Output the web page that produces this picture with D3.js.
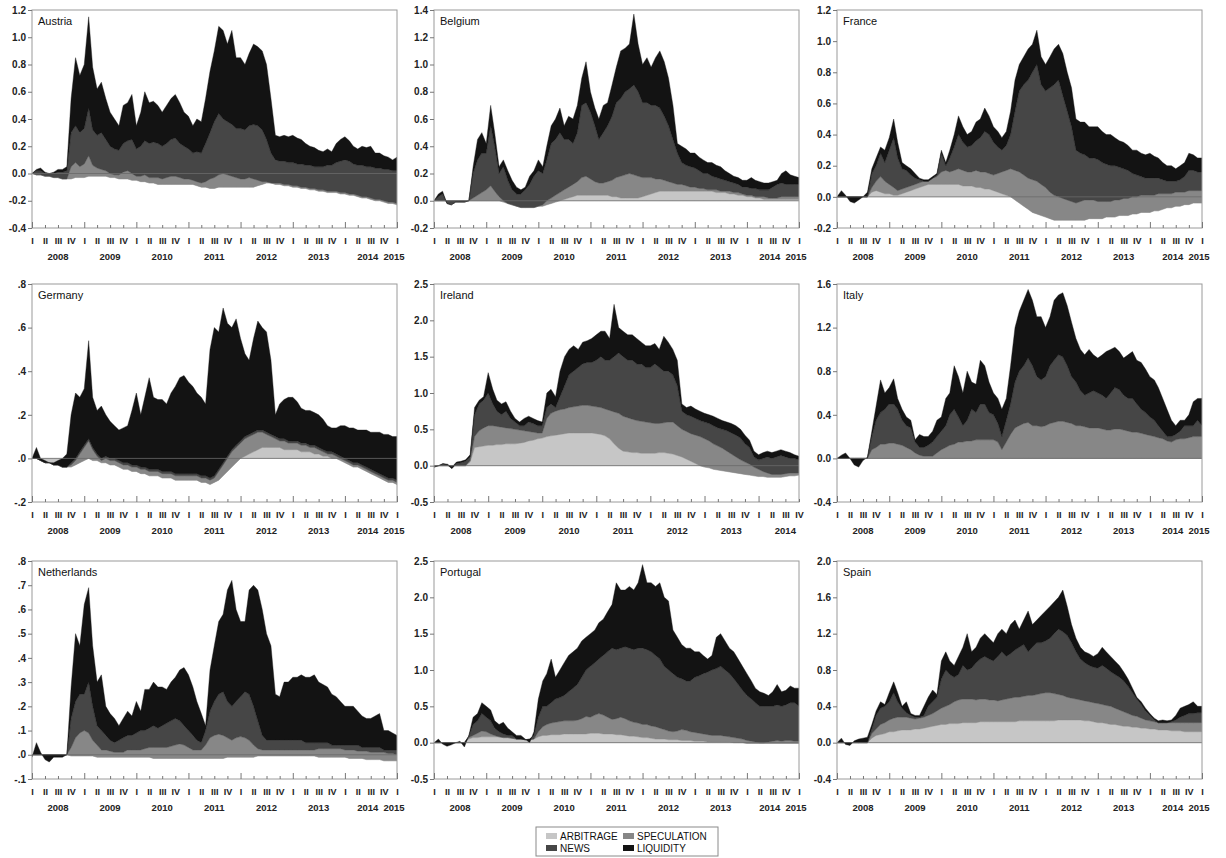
<!DOCTYPE html>
<html>
<head>
<meta charset="utf-8">
<script src="https://cdnjs.cloudflare.com/ajax/libs/d3/7.8.5/d3.min.js"></script>
<style>
  body { margin: 0; background: #fff; }
  svg { display: block; }
  text { font-family: "Liberation Sans", Arial, sans-serif; }
</style>
</head>
<body>
<svg id="chart" width="1226" height="858"></svg>
<script>
"use strict";

// Monthly readings, Jan 2008 .. Jan 2015 (Ireland stops at Oct 2014).
// Layers stack cumulatively in the order arbitrage, speculation, news, liquidity.

var austriaArbitrage = [
  0,-.01,-.01,-.02,-.02,-.03,-.03,-.04,-.04,-.04,-.03,-.03,
  -.03,-.02,-.02,-.02,-.02,-.02,-.03,-.03,-.04,-.04,-.04,-.05,
  -.05,-.06,-.06,-.07,-.07,-.08,-.08,-.08,-.08,-.08,-.08,-.08,
  -.08,-.08,-.09,-.10,-.10,-.11,-.11,-.10,-.10,-.10,-.10,-.10,
  -.10,-.10,-.10,-.10,-.09,-.08,-.07,-.07,-.08,-.08,-.09,-.09,
  -.10,-.10,-.11,-.11,-.12,-.12,-.13,-.13,-.14,-.14,-.14,-.15,
  -.15,-.16,-.16,-.17,-.18,-.18,-.19,-.20,-.20,-.21,-.22,-.22,
  -.23];
var austriaSpeculation = [
  0,0,0,0,0,0,0,0,0,.09,.11,.08,
  .10,.15,.08,.06,.05,.04,.03,.02,.03,.05,.06,.05,
  .03,.04,.05,.04,.04,.05,.04,.05,.06,.06,.05,.04,
  .04,.03,.03,.03,.04,.07,.08,.09,.10,.09,.08,.07,
  .06,.06,.07,.06,.04,.02,.01,0,.01,.01,.01,.01,
  .01,.01,.01,.01,.01,.01,.01,.01,.01,.01,.01,.01,
  .01,.01,.01,.01,.01,.01,.01,.01,.01,.01,.01,.01,
  .01];
var austriaNews = [
  0,.03,.03,.02,.02,.03,.04,.05,.06,.25,.27,.25,
  .26,.35,.26,.24,.27,.23,.20,.19,.18,.21,.22,.25,
  .20,.22,.25,.25,.26,.25,.24,.25,.27,.28,.25,.24,
  .22,.20,.22,.22,.28,.34,.41,.45,.40,.39,.38,.36,
  .37,.36,.38,.40,.40,.38,.31,.22,.17,.16,.17,.16,
  .17,.16,.17,.16,.17,.16,.17,.17,.19,.19,.21,.23,
  .24,.24,.22,.22,.23,.22,.23,.23,.23,.23,.24,.23,
  .24];
var austriaLiquidity = [
  0,.01,.02,.01,0,.01,.02,.02,.03,.25,.50,.42,
  .47,.67,.46,.34,.37,.30,.25,.22,.18,.28,.28,.33,
  .17,.25,.36,.30,.30,.28,.25,.28,.30,.32,.30,.25,
  .24,.20,.24,.23,.33,.45,.52,.64,.65,.57,.69,.52,
  .52,.48,.53,.59,.58,.58,.55,.40,.18,.18,.19,.19,
  .20,.19,.18,.16,.14,.14,.12,.11,.12,.10,.14,.16,
  .17,.15,.13,.12,.14,.14,.15,.11,.11,.10,.09,.08,
  .10];

var belgiumArbitrage = [
  0,0,0,0,0,0,0,0,0,0,0,0,
  0,0,0,0,-.01,-.02,-.03,-.04,-.05,-.05,-.05,-.05,
  -.04,-.04,-.03,-.02,-.01,0,.01,.02,.03,.04,.04,.04,
  .04,.04,.04,.04,.04,.03,.03,.02,.02,.02,.02,.02,
  .03,.04,.05,.06,.07,.07,.07,.07,.07,.07,.07,.07,
  .07,.07,.07,.07,.07,.06,.06,.06,.05,.05,.04,.04,
  .03,.03,.02,.02,.01,.01,.01,.01,.01,.01,.01,.01,
  .01];
var belgiumSpeculation = [
  0,0,0,0,0,0,0,0,0,.02,.04,.06,
  .08,.11,.07,.03,.01,0,0,0,0,0,0,0,
  0,.01,.03,.04,.05,.06,.07,.08,.09,.10,.13,.14,
  .12,.10,.09,.09,.10,.12,.14,.16,.17,.18,.17,.16,
  .14,.13,.12,.10,.09,.08,.07,.06,.05,.05,.04,.03,
  .03,.02,.02,.01,.01,.02,.01,.01,.02,.01,.02,.01,
  .01,.01,.01,.01,.02,.01,.01,.01,.02,.02,.02,.02,
  .02];
var belgiumNews = [
  0,.03,.05,-.02,-.03,-.01,-.01,-.01,0,.18,.26,.29,
  .27,.44,.33,.17,.25,.17,.11,.09,.10,.13,.17,.23,
  .26,.23,.30,.40,.41,.44,.37,.35,.30,.36,.53,.54,
  .49,.41,.32,.37,.41,.47,.55,.57,.61,.62,.66,.62,
  .55,.55,.53,.54,.52,.47,.41,.32,.23,.16,.15,.15,
  .14,.13,.11,.12,.10,.09,.09,.08,.07,.07,.06,.05,
  .06,.05,.06,.05,.05,.06,.08,.10,.10,.09,.09,.09,
  .09];
var belgiumLiquidity = [
  0,.02,.02,0,0,0,0,0,0,.05,.15,.15,
  .07,.15,.10,.05,.05,.07,.07,.05,.03,.02,.06,.04,
  .08,.05,.10,.13,.15,.18,.10,.17,.18,.20,.20,.30,
  .15,.13,.15,.20,.17,.23,.26,.35,.32,.33,.52,.35,
  .28,.33,.28,.35,.42,.40,.35,.25,.07,.12,.12,.10,
  .11,.10,.10,.08,.10,.09,.09,.07,.06,.05,.05,.05,
  .05,.08,.06,.06,.05,.05,.04,.03,.07,.10,.07,.06,
  .05];

var franceArbitrage = [
  0,0,0,0,0,0,0,0,.03,.04,.03,.02,
  .02,.01,.01,.02,.03,.04,.05,.06,.07,.08,.08,.08,
  .08,.08,.08,.08,.08,.07,.07,.07,.06,.06,.05,.05,
  .04,.03,.02,.01,0,-.02,-.04,-.06,-.08,-.10,-.11,-.12,
  -.13,-.14,-.15,-.15,-.15,-.15,-.15,-.15,-.15,-.15,-.14,-.14,
  -.14,-.14,-.13,-.13,-.13,-.12,-.12,-.12,-.11,-.11,-.10,-.10,
  -.10,-.09,-.09,-.08,-.07,-.07,-.06,-.06,-.05,-.05,-.04,-.04,
  -.04];
var franceSpeculation = [
  0,0,0,0,0,0,0,0,.03,.06,.10,.08,
  .06,.05,.03,.03,.03,.03,.03,.03,.03,.02,.04,.05,
  .08,.09,.08,.09,.10,.10,.09,.09,.11,.10,.11,.10,
  .10,.12,.14,.16,.18,.19,.20,.20,.20,.21,.21,.20,
  .19,.17,.16,.15,.14,.13,.12,.11,.12,.13,.12,.12,
  .11,.11,.10,.10,.11,.10,.11,.11,.11,.11,.11,.11,
  .11,.10,.11,.10,.09,.09,.09,.09,.08,.09,.08,.08,
  .08];
var franceNews = [
  0,0,0,0,0,0,0,0,.09,.10,.15,.12,
  .22,.32,.21,.13,.11,.07,.04,.02,0,0,0,.01,
  .12,.03,.09,.15,.22,.18,.16,.17,.19,.22,.26,.25,
  .21,.17,.14,.16,.22,.38,.52,.58,.63,.69,.75,.64,
  .62,.67,.71,.75,.66,.57,.48,.34,.31,.29,.27,.27,
  .27,.25,.24,.23,.22,.21,.19,.18,.15,.14,.12,.11,
  .11,.11,.10,.09,.08,.08,.07,.08,.10,.13,.13,.12,
  .12];
var franceLiquidity = [
  0,.04,.01,-.03,-.04,-.02,0,.03,.03,.05,.04,.08,
  .08,.12,.10,.04,.03,.04,.03,.01,.01,.01,.01,.01,
  .02,.02,.05,.08,.12,.10,.08,.09,.12,.12,.15,.12,
  .10,.10,.08,.09,.15,.20,.17,.18,.20,.18,.22,.18,
  .17,.20,.23,.23,.27,.25,.25,.20,.20,.21,.20,.20,
  .21,.20,.19,.20,.18,.17,.17,.16,.15,.16,.15,.15,
  .16,.14,.13,.11,.10,.10,.08,.09,.09,.11,.10,.09,
  .09];

var germanyArbitrage = [
  0,0,-.01,-.02,-.02,-.03,-.03,-.04,-.04,-.04,-.03,-.02,
  -.01,0,-.01,-.01,-.02,-.02,-.03,-.03,-.04,-.05,-.05,-.06,
  -.06,-.07,-.07,-.08,-.08,-.08,-.09,-.09,-.09,-.10,-.10,-.10,
  -.10,-.10,-.10,-.11,-.11,-.12,-.11,-.10,-.08,-.06,-.04,-.02,
  0,.01,.02,.03,.04,.05,.05,.05,.05,.05,.04,.04,
  .04,.04,.03,.03,.03,.02,.02,.01,.01,0,0,-.01,
  -.02,-.03,-.04,-.04,-.05,-.06,-.07,-.08,-.09,-.10,-.11,-.11,
  -.12];
var germanySpeculation = [
  0,0,0,0,0,0,0,0,0,.01,.02,.04,
  .06,.08,.05,.02,.01,.02,.02,.02,.02,.02,.02,.02,
  .02,.02,.02,.02,.02,.02,.02,.02,.02,.02,.02,.02,
  .02,.02,.02,.02,.02,.02,.02,.04,.05,.06,.07,.07,
  .07,.08,.08,.08,.08,.07,.06,.05,.04,.03,.04,.03,
  .03,.03,.03,.03,.02,.03,.02,.02,.01,.02,.01,.01,
  .01,.01,.01,.01,.01,.01,.01,.01,.01,.01,.01,.01,
  .01];
var germanyNews = [
  0,0,0,0,0,0,0,0,0,.01,.01,.01,
  .01,.01,.01,.01,.01,.01,.01,.01,.01,.01,.01,.01,
  .01,.01,.01,.01,.01,.01,.01,.01,.01,.01,.01,.01,
  .01,.01,.01,.01,.01,.01,.01,.01,.01,.01,.01,.01,
  .01,.01,.01,.01,.01,.01,.01,.01,.01,.01,.01,.01,
  .01,.01,.01,.01,.01,.01,.01,.01,.01,.01,.01,.01,
  .01,.01,.01,.01,.01,.01,.01,.01,.01,.01,.01,.01,
  .01];
var germanyLiquidity = [
  0,.05,.01,.01,0,.01,.02,.04,.06,.22,.30,.25,
  .26,.45,.23,.20,.24,.19,.17,.15,.14,.16,.17,.25,
  .33,.24,.32,.42,.33,.32,.33,.31,.36,.40,.44,.45,
  .42,.40,.37,.36,.33,.59,.68,.63,.71,.61,.56,.58,
  .47,.38,.34,.43,.50,.47,.46,.34,.10,.16,.18,.20,
  .20,.18,.16,.15,.16,.15,.15,.14,.12,.11,.12,.14,
  .15,.15,.16,.15,.16,.17,.17,.18,.19,.19,.20,.19,
  .20];

var irelandArbitrage = [
  0,0,0,0,0,0,0,0,.05,.25,.26,.27,
  .28,.28,.29,.29,.30,.30,.30,.31,.32,.34,.35,.37,
  .38,.40,.41,.42,.43,.44,.45,.45,.45,.45,.45,.45,
  .44,.43,.41,.37,.30,.24,.20,.19,.18,.18,.17,.17,
  .17,.17,.18,.18,.17,.16,.14,.12,.09,.06,.03,0,
  -.02,-.03,-.05,-.06,-.07,-.08,-.09,-.10,-.11,-.12,-.13,-.14,
  -.15,-.15,-.16,-.16,-.16,-.16,-.15,-.14,-.14,-.13];
var irelandSpeculation = [
  0,0,0,0,0,0,0,0,.02,.15,.22,.25,
  .27,.27,.25,.24,.22,.21,.20,.18,.16,.13,.11,.08,
  .07,.25,.31,.33,.34,.34,.35,.36,.37,.38,.38,.37,
  .37,.37,.37,.39,.44,.48,.48,.47,.46,.44,.44,.43,
  .42,.41,.40,.41,.43,.44,.41,.38,.38,.38,.39,.40,
  .39,.37,.35,.33,.31,.28,.25,.22,.19,.17,.15,.12,
  .10,.07,.06,.04,.04,.04,.04,.04,.04,.03];
var irelandNews = [
  -.02,0,.02,.01,-.04,.03,.04,.06,.05,.30,.37,.38,
  .45,.30,.21,.17,.23,.14,.10,.06,.07,.13,.12,.10,
  .10,.15,.13,.05,.18,.32,.45,.49,.53,.57,.59,.60,
  .64,.70,.67,.69,.76,.83,.82,.79,.81,.78,.79,.75,
  .76,.82,.77,.71,.70,.65,.55,.25,.23,.24,.23,.22,
  .23,.24,.25,.25,.26,.28,.29,.30,.30,.25,.23,.14,
  .13,.18,.22,.22,.24,.26,.23,.20,.20,.18];
var irelandLiquidity = [
  0,0,.01,.01,.02,.02,.02,.02,.03,.10,.05,.05,
  .28,.20,.15,.15,.13,.10,.05,.05,.10,.08,.07,.07,
  .05,.20,.20,.15,.35,.40,.35,.35,.25,.30,.30,.33,
  .35,.35,.40,.30,.72,.35,.35,.35,.35,.35,.30,.30,
  .30,.28,.25,.48,.40,.35,.35,.10,.10,.14,.13,.13,
  .12,.12,.13,.13,.12,.12,.13,.13,.12,.12,.10,.08,
  .07,.08,.08,.08,.08,.08,.08,.08,.05,.05];

var italyArbitrage = [
  0,0,0,0,0,0,0,0,0,0,0,0,
  0,0,0,0,0,0,0,0,0,0,0,0,
  0,0,0,0,0,0,0,0,0,0,0,0,
  0,0,0,0,0,0,0,0,0,0,0,0,
  0,0,0,0,0,0,0,0,0,0,0,0,
  0,0,0,0,0,0,0,0,0,0,0,0,
  0,0,0,0,0,0,0,0,0,0,0,0,
  0];
var italySpeculation = [
  0,0,0,0,0,0,0,0,.08,.10,.13,.13,
  .14,.14,.13,.12,.10,.08,.05,.03,.02,.02,.02,.05,
  .08,.10,.12,.13,.15,.15,.16,.16,.17,.17,.17,.17,
  .17,.15,.08,.15,.22,.28,.30,.32,.33,.30,.30,.29,
  .30,.32,.33,.34,.34,.33,.32,.30,.30,.29,.28,.28,
  .28,.27,.26,.26,.27,.27,.26,.25,.24,.24,.23,.22,
  .21,.20,.19,.18,.16,.15,.17,.18,.18,.19,.20,.20,
  .20];
var italyNews = [
  0,0,0,0,0,0,0,0,.12,.25,.29,.32,
  .36,.36,.32,.23,.20,.20,.10,.07,.08,.10,.13,.15,
  .17,.20,.28,.32,.23,.15,.19,.29,.25,.33,.33,.25,
  .23,.17,.12,.20,.28,.42,.50,.53,.59,.55,.45,.43,
  .45,.53,.57,.61,.59,.52,.43,.40,.32,.29,.32,.34,
  .32,.31,.29,.34,.38,.36,.32,.30,.31,.26,.22,.20,
  .17,.15,.11,.07,.04,.05,.05,.07,.12,.11,.10,.15,
  .10];
var italyLiquidity = [
  0,.03,.05,0,-.06,-.08,-.02,.01,.05,.13,.30,.15,
  .15,.23,.10,.10,.08,.07,.02,.12,.10,.08,.10,.15,
  .13,.25,.20,.40,.37,.30,.45,.25,.26,.40,.35,.28,
  .20,.23,.25,.20,.35,.50,.55,.60,.63,.60,.55,.58,
  .45,.45,.55,.55,.59,.55,.50,.40,.38,.37,.40,.33,
  .32,.37,.43,.40,.37,.35,.34,.40,.43,.40,.43,.40,
  .37,.37,.35,.30,.25,.15,.08,.10,.05,.10,.22,.20,
  .25];

var netherlandsArbitrage = [
  0,0,0,0,0,0,0,0,0,-.005,-.005,-.005,
  -.005,-.005,-.005,-.01,-.01,-.01,-.01,-.01,-.01,-.01,-.01,-.01,
  -.01,-.01,-.01,-.01,-.015,-.015,-.015,-.015,-.015,-.015,-.015,-.015,
  -.015,-.015,-.015,-.015,-.015,-.015,-.015,-.015,-.015,-.01,-.01,-.01,
  -.01,-.01,-.01,-.01,-.005,-.005,-.005,-.005,-.005,-.005,-.005,-.005,
  -.005,-.005,-.005,-.005,-.005,-.005,-.01,-.01,-.01,-.01,-.01,-.01,
  -.01,-.015,-.015,-.015,-.015,-.02,-.02,-.02,-.02,-.025,-.025,-.025,
  -.025];
var netherlandsSpeculation = [
  0,0,0,0,0,0,0,0,0,.035,.075,.095,
  .105,.095,.065,.05,.03,.03,.025,.02,.02,.02,.03,.03,
  .03,.03,.035,.04,.045,.045,.045,.045,.05,.055,.06,.055,
  .045,.035,.035,.035,.055,.085,.095,.10,.095,.08,.07,.08,
  .085,.08,.07,.05,.03,.025,.025,.025,.025,.025,.025,.025,
  .025,.025,.025,.025,.025,.025,.035,.035,.035,.035,.035,.035,
  .03,.035,.035,.03,.03,.035,.03,.03,.03,.035,.03,.03,
  .025];
var netherlandsNews = [
  0,0,0,0,0,0,0,0,0,.12,.15,.16,
  .15,.21,.14,.08,.08,.06,.045,.04,.05,.06,.06,.06,
  .07,.08,.075,.08,.09,.08,.09,.10,.105,.11,.095,.08,
  .07,.06,.04,.03,.06,.11,.14,.165,.18,.15,.14,.15,
  .165,.19,.19,.16,.115,.06,.04,.04,.04,.04,.04,.04,
  .04,.04,.04,.03,.03,.03,.025,.025,.025,.015,.015,.015,
  .02,.02,.02,.025,.015,.015,.02,.02,.02,.01,.015,.015,
  .02];
var netherlandsLiquidity = [
  -.01,.05,.01,-.02,-.03,-.01,-.01,-.01,0,.13,.28,.20,
  .37,.39,.25,.18,.23,.12,.11,.10,.06,.08,.10,.08,
  .13,.08,.17,.16,.18,.17,.16,.14,.16,.17,.21,.24,
  .23,.20,.16,.12,.02,.17,.23,.30,.32,.46,.52,.38,
  .31,.29,.43,.50,.54,.52,.44,.39,.19,.18,.24,.24,
  .26,.26,.27,.27,.27,.28,.25,.24,.23,.21,.20,.18,
  .16,.16,.16,.14,.13,.12,.12,.13,.14,.08,.08,.07,
  .06];

var portugalArbitrage = [
  0,0,0,0,0,0,0,0,.05,.07,.07,.08,
  .08,.08,.08,.08,.07,.07,.06,.05,.05,.04,.04,.05,
  .08,.10,.10,.11,.11,.11,.12,.12,.12,.12,.12,.12,
  .13,.13,.13,.12,.12,.12,.11,.11,.10,.09,.09,.08,
  .07,.07,.06,.05,.05,.05,.04,.04,.04,.03,.03,.03,
  .02,.02,.02,.01,.01,.01,.01,.01,.01,0,0,0,
  -.01,-.01,-.01,-.01,-.01,-.01,-.01,-.01,-.01,-.01,-.01,-.01,
  -.01];
var portugalSpeculation = [
  0,0,0,0,0,0,0,0,.02,.03,.06,.08,
  .07,.04,.02,0,0,0,0,0,0,0,0,0,
  .07,.12,.15,.16,.17,.18,.18,.18,.18,.19,.21,.24,
  .22,.25,.27,.26,.23,.20,.22,.24,.23,.21,.19,.19,
  .18,.18,.17,.17,.15,.13,.12,.11,.12,.15,.14,.12,
  .12,.11,.10,.10,.09,.09,.09,.08,.07,.07,.06,.05,
  .04,.03,.02,.01,.01,.02,.03,.04,.03,.04,.04,.03,
  .03];
var portugalNews = [
  0,0,0,0,0,0,0,0,.02,.15,.17,.24,
  .20,.18,.10,.07,.05,.03,.04,0,0,0,.01,.05,
  .20,.28,.25,.28,.32,.33,.35,.40,.45,.49,.57,.64,
  .70,.72,.75,.82,.90,.98,.95,.95,.99,1.00,1.00,1.03,
  1.05,1.03,1.02,.98,.95,.87,.84,.80,.74,.70,.68,.70,
  .76,.79,.83,.86,.90,.92,.95,.91,.87,.81,.74,.67,
  .62,.58,.54,.50,.50,.49,.48,.49,.48,.49,.52,.53,
  .48];
var portugalLiquidity = [
  0,.05,-.02,-.05,-.03,0,.02,-.06,.01,.10,.10,.15,
  .15,.15,.10,.10,.16,.10,.05,.05,.05,.01,-.05,.05,
  .25,.35,.45,.60,.30,.38,.45,.50,.50,.50,.50,.45,
  .45,.45,.50,.50,.55,.60,.92,.80,.78,.85,.82,.90,
  1.15,.92,.95,.95,1.05,.95,.95,.60,.55,.47,.45,.45,
  .35,.33,.25,.18,.20,.43,.45,.40,.35,.37,.35,.33,
  .30,.25,.20,.20,.18,.15,.20,.28,.20,.20,.23,.20,
  .25];

var spainArbitrage = [
  0,0,0,0,0,0,0,0,.05,.08,.09,.10,
  .12,.12,.13,.14,.14,.14,.15,.15,.16,.17,.18,.19,
  .20,.20,.21,.21,.21,.22,.22,.22,.22,.23,.23,.23,
  .23,.23,.23,.23,.23,.23,.24,.24,.24,.24,.24,.24,
  .24,.24,.24,.25,.25,.25,.25,.25,.25,.24,.24,.23,
  .22,.22,.21,.20,.20,.19,.18,.18,.17,.17,.16,.16,
  .15,.15,.14,.14,.14,.13,.13,.13,.12,.12,.12,.12,
  .12];
var spainSpeculation = [
  0,0,0,0,0,0,0,0,.05,.07,.11,.12,
  .13,.15,.15,.14,.14,.13,.11,.12,.12,.13,.14,.16,
  .18,.20,.21,.24,.26,.26,.26,.26,.25,.25,.25,.24,
  .24,.23,.24,.25,.26,.27,.26,.27,.28,.28,.29,.30,
  .31,.31,.30,.28,.27,.25,.24,.23,.22,.22,.21,.21,
  .21,.20,.20,.20,.18,.17,.16,.14,.13,.12,.11,.09,
  .09,.08,.08,.08,.08,.09,.09,.09,.10,.10,.10,.10,
  .10];
var spainNews = [
  0,0,0,0,0,0,0,0,.05,.15,.18,.18,
  .20,.28,.17,.10,.05,.03,.02,.01,.02,.10,.13,.15,
  .32,.40,.33,.27,.28,.37,.32,.34,.41,.44,.47,.45,
  .43,.49,.53,.47,.49,.52,.55,.57,.48,.53,.57,.56,
  .57,.60,.66,.72,.70,.68,.61,.52,.45,.42,.40,.39,
  .39,.43,.41,.38,.37,.36,.34,.30,.25,.19,.15,.10,
  .06,.02,0,0,0,.01,.03,.06,.08,.10,.10,.11,
  .11];
var spainLiquidity = [
  0,.05,-.02,-.03,.02,.04,.05,.06,.05,.05,.07,.02,
  .10,.12,.10,.02,.12,.02,.02,.02,.10,.10,.13,.03,
  .20,.20,.15,.13,.20,.20,.40,.18,.17,.23,.25,.23,
  .20,.25,.25,.25,.32,.33,.20,.27,.45,.25,.25,.30,
  .33,.35,.35,.35,.46,.32,.20,.15,.13,.12,.13,.12,
  .16,.20,.18,.17,.15,.13,.10,.08,.05,.02,.03,.03,
  .02,.02,.02,.03,.02,.02,.05,.10,.10,.10,.13,.07,
  .07];

// y axis tick values per panel
var austriaTicks = [-0.4, -0.2, 0, 0.2, 0.4, 0.6, 0.8, 1.0, 1.2];
var belgiumTicks = [-0.2, 0, 0.2, 0.4, 0.6, 0.8, 1.0, 1.2, 1.4];
var franceTicks = [-0.2, 0, 0.2, 0.4, 0.6, 0.8, 1.0, 1.2];
var germanyTicks = [-0.2, 0, 0.2, 0.4, 0.6, 0.8];
var irelandTicks = [-0.5, 0, 0.5, 1.0, 1.5, 2.0, 2.5];
var italyTicks = [-0.4, 0, 0.4, 0.8, 1.2, 1.6];
var netherlandsTicks = [-0.1, 0, 0.1, 0.2, 0.3, 0.4, 0.5, 0.6, 0.7, 0.8];
var portugalTicks = [-0.5, 0, 0.5, 1.0, 1.5, 2.0, 2.5];
var spainTicks = [-0.4, 0, 0.4, 0.8, 1.2, 1.6, 2.0];

var quarterNames = ["I", "II", "III", "IV"];
var yearLabels = [2008, 2009, 2010, 2011, 2012, 2013, 2014];
var layerNames = ["ARBITRAGE", "SPECULATION", "NEWS", "LIQUIDITY"];
var layerColors = ["#c6c6c6", "#878787", "#464646", "#131313"];

// tick label styles: one decimal, or one decimal with the leading zero dropped
function oneDecimal(v) { return v.toFixed(1); }
function noLeadZero(v) { return v.toFixed(1).replace("0.", "."); }

var panels = [
  { name: "Austria", series: [austriaArbitrage, austriaSpeculation, austriaNews, austriaLiquidity], ticks: austriaTicks, fmt: oneDecimal },
  { name: "Belgium", series: [belgiumArbitrage, belgiumSpeculation, belgiumNews, belgiumLiquidity], ticks: belgiumTicks, fmt: oneDecimal },
  { name: "France", series: [franceArbitrage, franceSpeculation, franceNews, franceLiquidity], ticks: franceTicks, fmt: oneDecimal },
  { name: "Germany", series: [germanyArbitrage, germanySpeculation, germanyNews, germanyLiquidity], ticks: germanyTicks, fmt: noLeadZero },
  { name: "Ireland", series: [irelandArbitrage, irelandSpeculation, irelandNews, irelandLiquidity], ticks: irelandTicks, fmt: oneDecimal },
  { name: "Italy", series: [italyArbitrage, italySpeculation, italyNews, italyLiquidity], ticks: italyTicks, fmt: oneDecimal },
  { name: "Netherlands", series: [netherlandsArbitrage, netherlandsSpeculation, netherlandsNews, netherlandsLiquidity], ticks: netherlandsTicks, fmt: noLeadZero },
  { name: "Portugal", series: [portugalArbitrage, portugalSpeculation, portugalNews, portugalLiquidity], ticks: portugalTicks, fmt: oneDecimal },
  { name: "Spain", series: [spainArbitrage, spainSpeculation, spainNews, spainLiquidity], ticks: spainTicks, fmt: oneDecimal }
];

var colLeft = [32, 434, 837];
var rowTop = [10, 284, 561];
var plotW = 365, plotH = 218;
var start = new Date(2008, 0, 1);
var svg = d3.select("#chart");

function drawPanel(p, i) {
  var left = colLeft[i % 3], top = rowTop[Math.floor(i / 3)];
  var months = p.series[0].length;
  var dates = d3.range(months).map(function (m) { return d3.timeMonth.offset(start, m); });
  var x = d3.scaleTime().domain([start, dates[months - 1]]).range([0, plotW]);
  var y = d3.scaleLinear().domain(d3.extent(p.ticks)).range([plotH, 0]);

  var rows = dates.map(function (d, m) {
    var r = { date: d };
    layerNames.forEach(function (k, j) { r[k] = p.series[j][m]; });
    return r;
  });
  // default offset: every layer starts where the previous one ended (signed values)
  var stacked = d3.stack().keys(layerNames)(rows);

  var g = svg.append("g").attr("transform", "translate(" + left + "," + top + ")");
  g.append("clipPath").attr("id", "clip" + i)
    .append("rect").attr("width", plotW).attr("height", plotH);

  var area = d3.area()
    .x(function (d) { return x(d.data.date); })
    .y0(function (d) { return y(d[0]); })
    .y1(function (d) { return y(d[1]); });

  g.append("g").attr("clip-path", "url(#clip" + i + ")")
    .selectAll("path")
    .data(stacked)
    .enter().append("path")
      .attr("d", area)
      .attr("fill", function (d, j) { return layerColors[j]; })
      .attr("stroke", function (d, j) { return layerColors[j]; })
      .attr("stroke-width", 0.4);

  // zero line
  g.append("line")
    .attr("x1", 0).attr("x2", plotW)
    .attr("y1", y(0)).attr("y2", y(0))
    .attr("stroke", "#6a6a6a").attr("stroke-width", 0.8);

  g.append("rect")
    .attr("width", plotW).attr("height", plotH)
    .attr("fill", "none").attr("stroke", "#9a9a9a").attr("stroke-width", 1);

  // y axis
  var yAxis = g.append("g")
    .call(d3.axisLeft(y).tickValues(p.ticks).tickSize(4).tickPadding(2).tickFormat(p.fmt));
  yAxis.select(".domain").remove();
  yAxis.selectAll("line").attr("stroke", "#777");
  yAxis.selectAll("text").attr("font-size", 10).attr("font-weight", "bold").attr("fill", "#222");

  // x axis: quarter ticks pointing inside, roman quarter labels
  var quarters = dates.filter(function (d, m) { return m % 3 === 0; });
  var xAxis = g.append("g").attr("transform", "translate(0," + plotH + ")")
    .call(d3.axisBottom(x).tickValues(quarters).tickSizeInner(-3).tickSizeOuter(0).tickPadding(10)
      .tickFormat(function (d) { return quarterNames[Math.floor(d.getMonth() / 3)]; }));
  xAxis.select(".domain").remove();
  xAxis.selectAll("line")
    .attr("y2", function (d) { return d.getMonth() === 0 ? -6 : -3; })
    .attr("stroke", "#777");
  xAxis.selectAll("text").attr("font-size", 9).attr("font-weight", "bold").attr("fill", "#222");

  // year labels centred in each year; the closing 2015 sits at the right edge
  g.selectAll(".year")
    .data(yearLabels)
    .enter().append("text")
      .attr("x", function (yr) { return x(new Date(yr, 6, 1)) - (yr === 2014 && months > 84 ? 3 : 0); })
      .attr("y", plotH + 32)
      .attr("text-anchor", "middle")
      .attr("font-size", 9.5).attr("font-weight", "bold").attr("fill", "#222")
      .text(function (yr) { return yr; });
  if (months > 84) {
    g.append("text")
      .attr("x", plotW - 3).attr("y", plotH + 32)
      .attr("text-anchor", "middle")
      .attr("font-size", 9.5).attr("font-weight", "bold").attr("fill", "#222")
      .text("2015");
  }

  g.append("text")
    .attr("x", 6).attr("y", 15)
    .attr("font-size", 11).attr("fill", "#111")
    .text(p.name);
}

panels.forEach(drawPanel);

// legend
var legend = svg.append("g").attr("transform", "translate(536,827)");
legend.append("rect")
  .attr("width", 182).attr("height", 29)
  .attr("fill", "#fff").attr("stroke", "#8a8a8a");
var item = legend.selectAll(".item")
  .data(layerNames)
  .enter().append("g")
    .attr("transform", function (d, j) {
      return "translate(" + (j % 2 === 0 ? 10 : 87) + "," + (j < 2 ? 9 : 21) + ")";
    });
item.append("rect")
  .attr("y", -3).attr("width", 11).attr("height", 6)
  .attr("fill", function (d, j) { return layerColors[j]; });
item.append("text")
  .attr("x", 14).attr("y", 3.5)
  .attr("font-size", 10).attr("fill", "#111")
  .text(function (d) { return d; });
</script>
</body>
</html>
